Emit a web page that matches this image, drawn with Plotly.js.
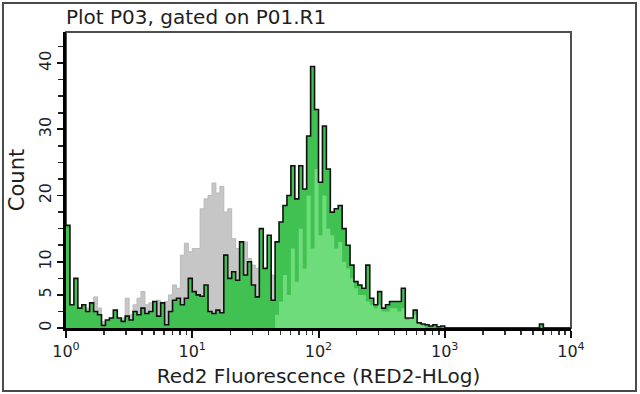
<!DOCTYPE html>
<html>
<head>
<meta charset="utf-8">
<script src="https://cdn.plot.ly/plotly-3.0.1.min.js"></script>
<style>
  html, body { margin: 0; padding: 0; background: #ffffff; }
  #chart { width: 640px; height: 394px; }
</style>
</head>
<body>
<div id="chart"></div>
<script>
// Histogram channel layout: 32 bins per decade from 10^0 to 10^4
var binsPerDecade = 32;
var decades = 4;

// Gray control histogram (counts per bin)
var grayCounts = [
  8, 3, 4, 2.5, 2.5, 3, 2, 4.7, 3, 1,
  1, 1.5, 2, 1.2, 1.5, 4.5, 2, 3.5, 4.5, 5.5,
  3.5, 3.8, 3.2, 4.2, 3.5, 4, 5, 6.5, 6, 11,
  12.8, 11.5, 12, 12, 18, 19.5, 20, 21.9, 20.4, 21.4,
  17.5, 18, 13.5, 12, 11, 13, 10.5, 9.5, 9, 10,
  9, 8.5, 8, 7, 7, 6, 6, 5, 5, 4,
  4, 3.5, 3, 3, 2.5, 2.5, 2, 2, 1.5, 1.5,
  1, 1, 1, 0.8, 0.8, 0.5, 0.5, 0.5, 0.3, 0.3,
  0.3, 0.2, 0.2, 0, 0, 0, 0, 0, 0, 0,
  0, 0, 0, 0, 0, 0, 0, 0, 0, 0,
  0, 0, 0, 0, 0, 0, 0, 0, 0, 0,
  0, 0, 0, 0, 0, 0, 0, 0, 0, 0,
  0, 0, 0, 0, 0, 0, 0, 0
];

// Green (black-outlined) sample histogram
var greenCounts = [
  15.5, 3.5, 7.5, 3, 3.5, 2.5, 3.8, 2.5, 2, 0.4,
  1.2, 1.5, 2.7, 1.5, 1.0, 1.8, 1.2, 2.5, 2.0, 3.0,
  2.2, 2.5, 4.0, 1.8, 3.8, 0.5, 2.5, 4.2, 4.5, 3.5,
  4.5, 7.5, 5.5, 5.0, 4.8, 6.5, 2.5, 2.2, 2.7, 2.3,
  11, 7.5, 8.5, 7.2, 13, 8, 10, 6.5, 4.7, 15,
  9, 14, 4.2, 13, 16, 18.5, 20, 24.5, 19.5, 24.5,
  21, 29, 39.5, 33, 22, 30.5, 24, 17.5, 18, 18.5,
  15, 12.5, 9.5, 7, 6.5, 6, 9.5, 4.5, 3.5, 5.5,
  3, 3.5, 4, 4, 4, 6, 1.5, 1.5, 2.7, 0.8,
  0.6, 0.5, 0.3, 0.5, 0.2, 0.3, 0, 0, 0, 0,
  0, 0, 0, 0, 0, 0, 0, 0, 0, 0,
  0, 0, 0, 0, 0, 0, 0, 0, 0, 0,
  0.6, 0, 0, 0, 0, 0, 0, 0
];

// Light green overlay histogram
var lightGreenCounts = [
  0, 0, 0, 0, 0, 0, 0, 0, 0, 0,
  0, 0, 0, 0, 0, 0, 0, 0, 0, 0,
  0, 0, 0, 0, 0, 0, 0, 0, 0, 0,
  0, 0, 0, 0, 0, 0, 0, 0, 0, 0,
  0, 0, 0, 0, 0, 0, 0, 0, 0, 0,
  0, 0, 0, 2, 4, 8, 5, 12, 7, 15,
  9, 20, 12, 24, 14, 20, 15, 14, 12, 13,
  10, 9, 7.5, 6, 5, 5, 4, 3.5, 3, 3.5,
  2.5, 2.5, 3, 3, 2.5, 3, 1.2, 1.5, 2, 0.6,
  0.4, 0, 0, 0, 0, 0, 0, 0, 0, 0,
  0, 0, 0, 0, 0, 0, 0, 0, 0, 0,
  0, 0, 0, 0, 0, 0, 0, 0, 0, 0,
  0, 0, 0, 0, 0, 0, 0, 0
];

var xTickVals = [1, 10, 100, 1000, 10000];
var xTickText = ['10<sup>0</sup>', '10<sup>1</sup>', '10<sup>2</sup>', '10<sup>3</sup>', '10<sup>4</sup>'];
var yTickVals = [0, 5, 10, 20, 30, 40];
var yTickText = ['0', '5', '10', '20', '30', '40'];
var yMinorVals = [2.5, 7.5, 12.5, 15, 17.5, 22.5, 25, 27.5, 32.5, 35, 37.5, 42.5];

var titleText = 'Plot P03, gated on P01.R1';
var xTitle = 'Red2 Fluorescence (RED2-HLog)';
var yTitle = 'Count';

// Build step outlines: bin left edges, plus closing edge
function stepXY(counts) {
  var xs = [], ys = [];
  for (var i = 0; i < counts.length; i++) {
    xs.push(Math.pow(10, i / binsPerDecade));
    ys.push(counts[i]);
  }
  xs.push(Math.pow(10, counts.length / binsPerDecade));
  ys.push(counts[counts.length - 1]);
  return {x: xs, y: ys};
}

var g = stepXY(grayCounts);
var gr = stepXY(greenCounts);
var lg = stepXY(lightGreenCounts);

// minor tick positions for log axis (2..9 per decade)
var minorVals = [];
for (var d = 0; d < decades; d++) {
  for (var m = 2; m <= 9; m++) minorVals.push(m * Math.pow(10, d));
}

var traces = [
  {x: g.x, y: g.y, type: 'scatter', mode: 'lines', line: {shape: 'hv', color: '#b9b9b9', width: 1},
   fill: 'tozeroy', fillcolor: '#c6c6c6', hoverinfo: 'skip'},
  {x: gr.x, y: gr.y, type: 'scatter', mode: 'lines', line: {shape: 'hv', color: 'rgba(0,0,0,0)', width: 0},
   fill: 'tozeroy', fillcolor: '#40c152', hoverinfo: 'skip'},
  {x: lg.x, y: lg.y, type: 'scatter', mode: 'lines', line: {shape: 'hv', color: 'rgba(0,0,0,0)', width: 0},
   fill: 'tozeroy', fillcolor: '#6fdc7b', hoverinfo: 'skip'},
  {x: gr.x, y: gr.y, type: 'scatter', mode: 'lines', line: {shape: 'hv', color: '#111111', width: 1.6},
   hoverinfo: 'skip'}
];

var font = {family: '"DejaVu Sans", Verdana, sans-serif', color: '#1e1e1e'};

var layout = {
  width: 640, height: 394,
  margin: {l: 66, r: 69, t: 32, b: 66, pad: 0},
  paper_bgcolor: '#ffffff', plot_bgcolor: '#ffffff',
  showlegend: false,
  font: font,
  title: {text: titleText, font: {family: font.family, size: 20, color: '#1e1e1e'},
          x: 0, xref: 'paper', xanchor: 'left', y: 0.957, yref: 'container', yanchor: 'middle'},
  xaxis: {
    type: 'log', range: [0, 4], fixedrange: true,
    tickmode: 'array', tickvals: xTickVals, ticktext: xTickText,
    ticks: 'outside', ticklen: 7, tickwidth: 2, tickcolor: '#111',
    minor: {tickmode: 'array', tickvals: minorVals, ticks: 'outside', ticklen: 4, tickwidth: 1.5, tickcolor: '#333', showgrid: false},
    showline: true, linecolor: '#000', linewidth: 3,
    showgrid: false, zeroline: false,
    tickfont: {family: font.family, size: 16, color: '#1e1e1e'},
    title: {text: xTitle, font: {family: font.family, size: 20, color: '#1e1e1e'}, standoff: 9}
  },
  yaxis: {
    range: [0, 44.7], fixedrange: true,
    tickmode: 'array', tickvals: yTickVals, ticktext: yTickText, tickangle: -90,
    ticks: 'outside', ticklen: 6, tickwidth: 1.8, tickcolor: '#111',
    minor: {tickmode: 'array', tickvals: yMinorVals, ticks: 'outside', ticklen: 5, tickwidth: 1.6, tickcolor: '#222', showgrid: false},
    showline: true, linecolor: '#000', linewidth: 3,
    showgrid: false, zeroline: false,
    tickfont: {family: font.family, size: 16, color: '#1e1e1e'},
    title: {text: yTitle, font: {family: font.family, size: 21, color: '#1e1e1e'}, standoff: 6}
  },
  shapes: [
    {type: 'rect', xref: 'paper', yref: 'paper', x0: 0, x1: 1, y0: 0, y1: 1,
     line: {color: '#505050', width: 2}, layer: 'below'},
    {type: 'rect', xref: 'paper', yref: 'paper', x0: -0.1248, x1: 1.1287, y0: -0.2128, y1: 1.098,
     line: {color: '#4a4a4a', width: 2}, layer: 'above'}
  ]
};

Plotly.newPlot('chart', traces, layout, {staticPlot: true, displayModeBar: false});
</script>
</body>
</html>
